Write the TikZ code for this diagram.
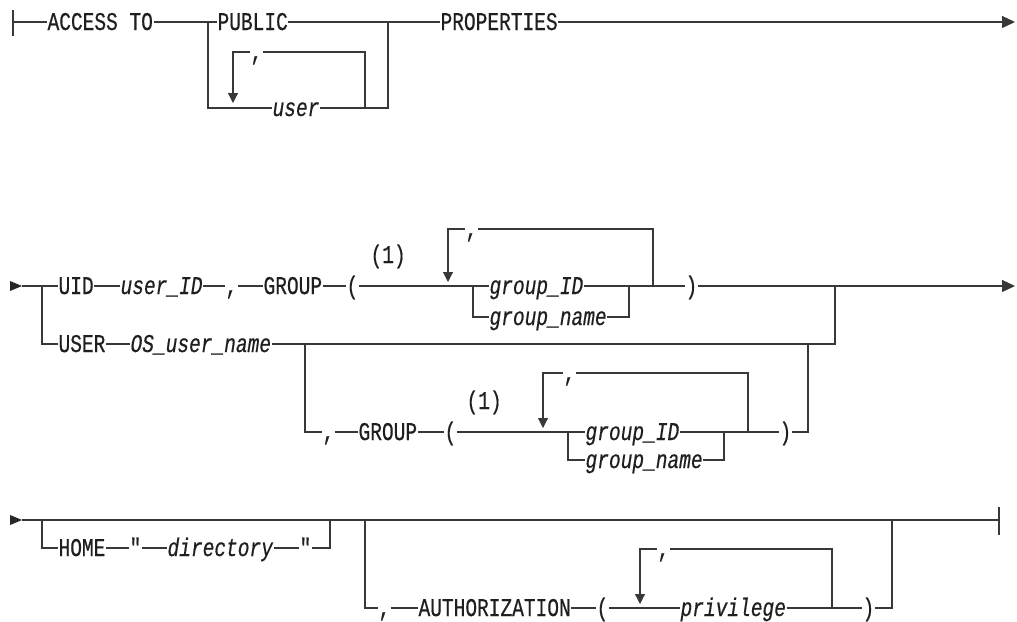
\documentclass[tikz,border=0pt]{standalone}
\usepackage{fontspec}
\newfontfamily\rrfont[FakeStretch=0.765,FakeBold=0.5]{Liberation Mono}
\usetikzlibrary{arrows.meta}
\begin{document}
\begin{tikzpicture}[x=1pt,y=-1pt,
  line width=1.15pt, draw=black!78,
  txt/.style={anchor=west, xshift=2pt, inner xsep=0pt, inner ysep=0pt, text height=20pt, text depth=4pt,
    font=\rrfont\fontsize{25.5}{27}\selectfont, text=black!88},
  var/.style={txt, font=\rrfont\itshape\fontsize{25.5}{27}\selectfont},
  loopend/.style={-{Triangle[length=10pt,width=10pt]}},
  rowend/.style={-{Triangle[length=13pt,width=12pt]}}
]
\useasboundingbox (0,0) rectangle (1017,621);

% ---------------- Row 1 ----------------
\node[txt] (acc) at (45,22) {ACCESS TO};
\node[txt] (pub) at (215,22) {PUBLIC};
\node[txt] (prop) at (438,22) {PROPERTIES};
\node[var] (usr) at (270,108) {user};
\node[txt] (c1) at (248,52) {,};
\coordinate (s1) at (13,22);
\coordinate (s1t) at (13,10);
\coordinate (s1b) at (13,36);
\coordinate (j1l) at (208,22);
\coordinate (j1r) at (388,22);
\coordinate (l1r) at (365,108);
\coordinate (a1) at (233,103);
\coordinate (e1) at (1015,22);

\draw (s1t) -- (s1b);
\draw (s1) -- (acc.west);
\draw (acc.east) -- (pub.west);
\draw (j1l) |- (usr.west);
\draw (pub.east) -- (prop.west);
\draw (usr.east) -| (j1r);
\draw (l1r) |- (c1.east);
\draw[loopend] (c1.west) -| (a1);
\draw[rowend] (prop.east) -- (e1);

% ---------------- Row 2 ----------------
\node[txt] (uid) at (56,286) {UID};
\node[var] (uidv) at (118,286) {user\_ID};
\node[txt] (c2) at (223,286) {,};
\node[txt] (grp1) at (261,286) {GROUP};
\node[txt] (lp1) at (344,286) {(};
\node[txt] (n1) at (368,255) {(1)};
\node[txt] (c3) at (463,229) {,};
\node[var] (gid1) at (487,286) {group\_ID};
\node[var] (gnm1) at (487,317) {group\_name};
\node[txt] (rp1) at (683,286) {)};
\node[txt] (usr2) at (56,344) {USER};
\node[var] (osu) at (128,344) {OS\_user\_name};
\node[txt] (c4) at (320,432) {,};
\node[txt] (grp2) at (356,432) {GROUP};
\node[txt] (lp2) at (442,432) {(};
\node[txt] (n2) at (464,401) {(1)};
\node[txt] (c5) at (561,373) {,};
\node[var] (gid2) at (583,432) {group\_ID};
\node[var] (gnm2) at (583,460) {group\_name};
\node[txt] (rp2) at (777,432) {)};

\coordinate (s2) at (22,286);
\coordinate (j2l) at (42,286);
\coordinate (j2g) at (473,286);
\coordinate (j2n) at (629,286);
\coordinate (l2r) at (653,286);
\coordinate (a2) at (448,282);
\coordinate (j2u) at (835,286);
\coordinate (e2) at (1015,286);
\coordinate (j2o) at (305,344);
\coordinate (j2g2) at (568,432);
\coordinate (j2n2) at (724,432);
\coordinate (l2r2) at (748,432);
\coordinate (a3) at (543,428);
\coordinate (j2c) at (808,344);

\fill[black!85] (10,281) -- (22,286) -- (10,291) -- cycle;
\draw (s2) -- (uid.west);
\draw (j2l) |- (usr2.west);
\draw (uid.east) -- (uidv.west);
\draw (uidv.east) -- (c2.west);
\draw (c2.east) -- (grp1.west);
\draw (grp1.east) -- (lp1.west);
\draw (lp1.east) -- (gid1.west);
\draw (j2g) |- (gnm1.west);
\draw (gid1.east) -- (rp1.west);
\draw (gnm1.east) -| (j2n);
\draw (l2r) |- (c3.east);
\draw[loopend] (c3.west) -| (a2);
\draw[rowend] (rp1.east) -- (e2);
\draw (usr2.east) -- (osu.west);
\draw (osu.east) -| (j2u);
\draw (j2o) |- (c4.west);
\draw (c4.east) -- (grp2.west);
\draw (grp2.east) -- (lp2.west);
\draw (lp2.east) -- (gid2.west);
\draw (j2g2) |- (gnm2.west);
\draw (gid2.east) -- (rp2.west);
\draw (gnm2.east) -| (j2n2);
\draw (l2r2) |- (c5.east);
\draw[loopend] (c5.west) -| (a3);
\draw (rp2.east) -| (j2c);

% ---------------- Row 3 ----------------
\node[txt] (home) at (56,548) {HOME};
\node[txt] (q1) at (127,548) {"};
\node[var] (dir) at (165,548) {directory};
\node[txt] (q2) at (297,548) {"};
\node[txt] (c6) at (376,608) {,};
\node[txt] (auth) at (416,608) {AUTHORIZATION};
\node[txt] (lp3) at (594,608) {(};
\node[txt] (c7) at (655,549) {,};
\node[var] (priv) at (678,608) {privilege};
\node[txt] (rp3) at (860,608) {)};

\coordinate (s3) at (22,520);
\coordinate (j3a) at (42,520);
\coordinate (j3b) at (330,520);
\coordinate (j3c) at (365,520);
\coordinate (j3d) at (892,520);
\coordinate (l3r) at (832,608);
\coordinate (a4) at (640,604);
\coordinate (e3) at (999,520);
\coordinate (e3t) at (999,507);
\coordinate (e3b) at (999,535);
\coordinate (d1) at (897,520);
\coordinate (d2) at (920,520);

\fill[black!85] (10,515) -- (22,520) -- (10,525) -- cycle;
\draw (s3) -- (e3);
\draw (e3t) -- (e3b);
\draw (j3a) |- (home.west);
\draw (home.east) -- (q1.west);
\draw (q1.east) -- (dir.west);
\draw (dir.east) -- (q2.west);
\draw (q2.east) -| (j3b);
\draw (j3c) |- (c6.west);
\draw (c6.east) -- (auth.west);
\draw (auth.east) -- (lp3.west);
\draw (lp3.east) -- (priv.west);
\draw (priv.east) -- (rp3.west);
\draw (rp3.east) -| (j3d);
\draw (l3r) |- (c7.east);
\draw[loopend] (c7.west) -| (a4);
\draw[line width=2.2pt] (d1) -- (d2);
\end{tikzpicture}
\end{document}
